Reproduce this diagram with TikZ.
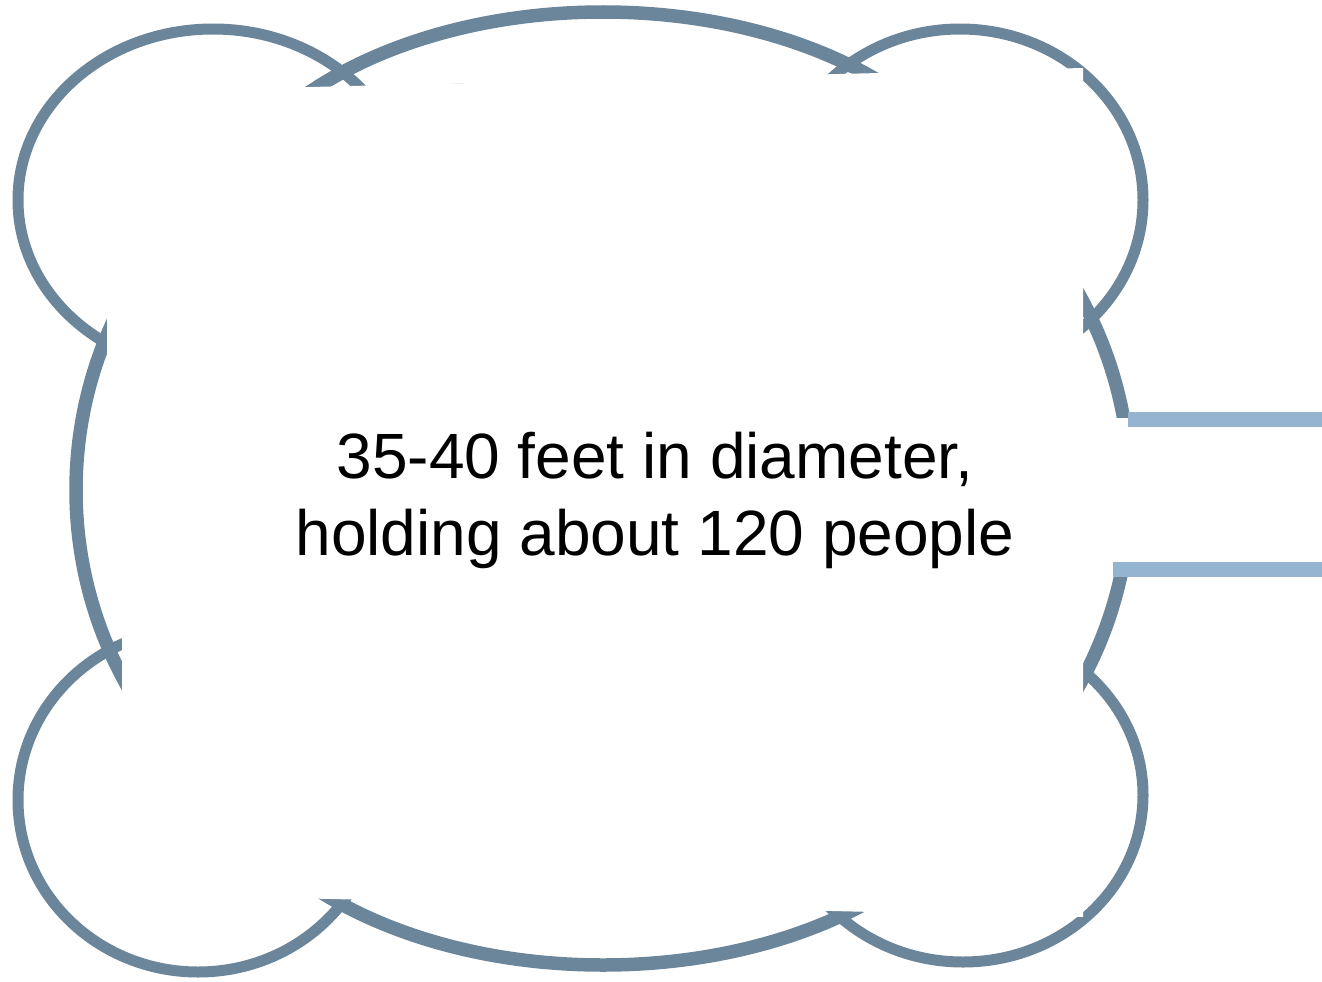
\documentclass[tikz,border=0pt]{standalone}
\usepackage{fontspec}
\setmainfont{Liberation Sans}
\definecolor{cloudline}{RGB}{107,133,154}
\definecolor{lightblue}{RGB}{148,180,210}
\begin{document}
\begin{tikzpicture}[x=1pt,y=-1pt,
  puff/.style={draw=cloudline,line width=11pt},
  bigpuff/.style={draw=cloudline,line width=13.5pt},
  cover/.style={fill=white},
  bluebar/.style={draw=lightblue,line width=15pt,line cap=butt},
  caption/.style={font=\fontsize{64}{77}\selectfont,align=center,inner sep=0pt}]
\useasboundingbox (0,0) rectangle (1322,982);
% large ellipses
\draw[bigpuff] (603,262) ellipse [x radius=400, y radius=250];
\draw[bigpuff] (603,715) ellipse [x radius=400, y radius=250];
\draw[bigpuff] (476,490) ellipse [x radius=400, y radius=400];
\draw[bigpuff] (730,490) ellipse [x radius=400, y radius=400];
% corner puffs
\draw[puff] (213,200) ellipse [x radius=195, y radius=171];
\draw[puff] (960,200) ellipse [x radius=183, y radius=171];
\draw[puff] (198,800) ellipse [x radius=180, y radius=172];
\draw[puff] (963,795) ellipse [x radius=180, y radius=167];
% white interior
\fill[cover] (107,92) -- (1083,68) -- (1083,418) -- (1142,418) -- (1142,569)
  -- (1083,569) -- (1083,917) -- (122,894) -- (122,640) -- (107,360) -- cycle;
% text
\node[caption] (label) at (655,500) {35-40 feet in diameter,\\holding about 120 people};
% light blue bars
\coordinate (a1) at (1128,419);
\coordinate (a2) at (1322,419);
\coordinate (b1) at (1113,569);
\coordinate (b2) at (1322,569);
\draw[bluebar] (a1) -- (a2);
\draw[bluebar] (b1) -- (b2);
\end{tikzpicture}
\end{document}
